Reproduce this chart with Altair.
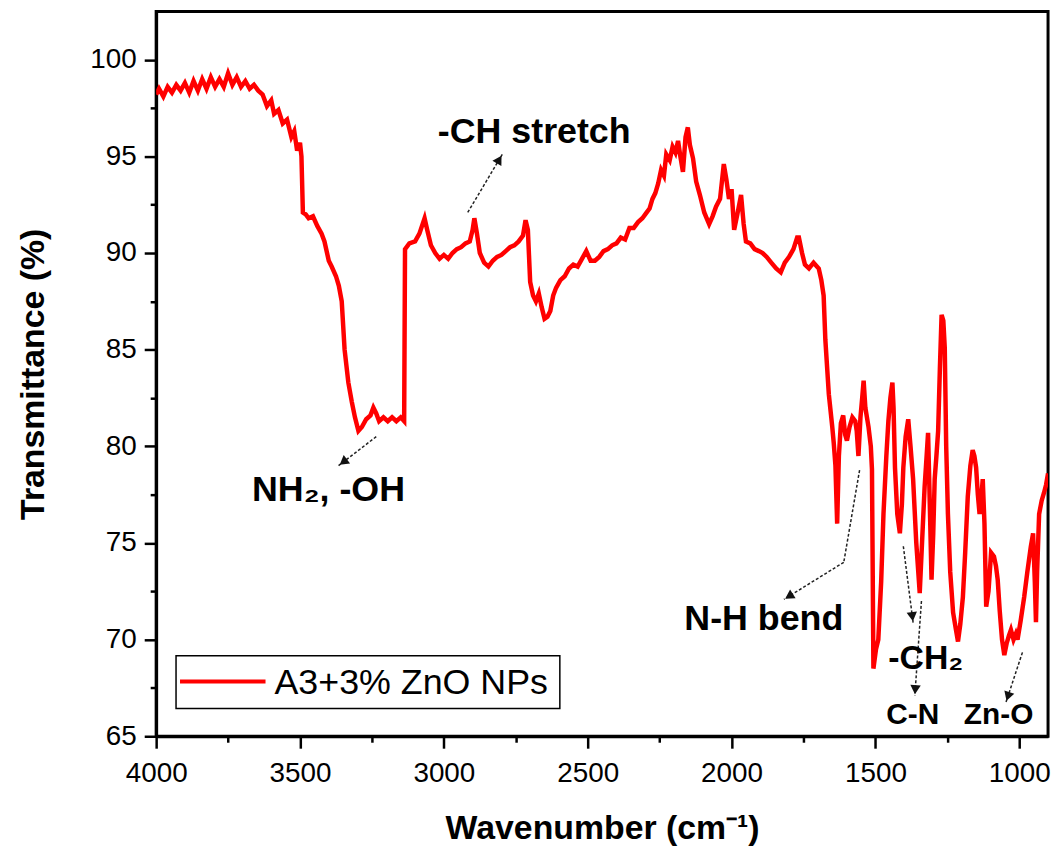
import math
import altair as alt
import pandas as pd

# ---------------- data ----------------
wavenumber = [
    4000, 3990, 3975, 3960, 3945, 3930, 3915, 3900, 3885, 3870, 3855, 3840, 3825, 3810, 3795, 3780,
    3765, 3750, 3735, 3720, 3705, 3690, 3675, 3660, 3645, 3630, 3615, 3600, 3590, 3575, 3560, 3545,
    3530, 3520, 3510, 3500, 3495, 3490, 3480, 3470, 3455, 3440, 3425, 3415, 3400, 3390, 3375, 3365,
    3355, 3345, 3332, 3320, 3309, 3297, 3285, 3270, 3255, 3245, 3235, 3225, 3210, 3195, 3180, 3165,
    3150, 3138, 3135, 3120, 3100, 3085, 3067, 3058, 3045, 3030, 3015, 3000, 2985, 2970, 2955, 2940,
    2925, 2910, 2900, 2894, 2885, 2875, 2860, 2845, 2830, 2815, 2800, 2785, 2770, 2755, 2740, 2725,
    2716, 2708, 2700, 2690, 2680, 2670, 2660, 2650, 2640, 2630, 2620, 2610, 2595, 2580, 2565, 2550,
    2535, 2520, 2505, 2490, 2475, 2460, 2445, 2430, 2415, 2400, 2385, 2370, 2355, 2340, 2325, 2310,
    2295, 2285, 2275, 2265, 2255, 2245, 2235, 2227, 2215, 2205, 2195, 2186, 2178, 2169, 2160, 2152,
    2145, 2134, 2123, 2110, 2095, 2078, 2066, 2054, 2040, 2027, 2018, 2009, 2000, 1991, 1980, 1967,
    1958, 1950, 1935, 1920, 1905, 1892, 1878, 1862, 1845, 1829, 1815, 1800, 1785, 1772, 1766, 1755,
    1745, 1731, 1715, 1697, 1688, 1680, 1674, 1662, 1650, 1645, 1639, 1633, 1627, 1620, 1612, 1605,
    1599, 1590, 1580, 1570, 1565, 1559, 1552, 1546, 1541, 1535, 1524, 1516, 1512, 1507, 1498, 1490,
    1480, 1472, 1462, 1455, 1448, 1441, 1437, 1432, 1424, 1415, 1408, 1403, 1395, 1386, 1378, 1369,
    1358, 1346, 1338, 1329, 1322, 1317, 1311, 1305, 1299, 1294, 1288, 1282, 1276, 1270, 1264, 1259,
    1254, 1248, 1240, 1230, 1220, 1213, 1205, 1196, 1188, 1179, 1170, 1162, 1156, 1150, 1144, 1138,
    1132, 1127, 1121, 1115, 1107, 1098, 1088, 1081, 1075, 1068, 1060, 1052, 1044, 1036, 1029, 1020,
    1012, 1006, 995, 983, 972, 960, 952, 946, 942, 938, 931, 922, 914, 907, 900,
]
transmittance = [
    98.2, 98.5, 98.1, 98.6, 98.3, 98.7, 98.4, 98.8, 98.3, 98.9, 98.4, 99.0, 98.5, 99.1, 98.6, 99.0,
    98.6, 99.3, 98.7, 99.1, 98.6, 98.9, 98.5, 98.7, 98.4, 98.2, 97.6, 97.9, 97.2, 97.4, 96.7, 96.9,
    96.0, 96.3, 95.3, 95.7, 95.0, 92.1, 92.0, 91.8, 91.9, 91.4, 91.0, 90.6, 89.6, 89.3, 88.8, 88.3,
    87.5, 85.0, 83.3, 82.3, 81.5, 80.8, 81.0, 81.4, 81.6, 82.0, 81.7, 81.3, 81.5, 81.3, 81.5, 81.3,
    81.5, 81.3, 90.2, 90.5, 90.6, 91.0, 91.8, 91.2, 90.4, 90.0, 89.7, 89.9, 89.7, 90.0, 90.2, 90.3,
    90.5, 90.6, 91.2, 91.8, 91.0, 90.0, 89.5, 89.3, 89.6, 89.8, 89.9, 90.1, 90.3, 90.4, 90.6, 90.9,
    91.7, 91.2, 88.5, 87.8, 87.5, 87.9, 87.2, 86.6, 86.7, 87.0, 87.8, 88.2, 88.6, 88.8, 89.2, 89.4,
    89.3, 89.7, 90.1, 89.6, 89.6, 89.8, 90.1, 90.2, 90.4, 90.5, 90.8, 90.7, 91.3, 91.3, 91.6, 91.8,
    92.1, 92.3, 92.8, 93.1, 93.6, 94.3, 94.0, 95.1, 94.8, 95.5, 95.2, 95.8, 95.0, 94.2, 96.0, 96.5,
    95.6, 94.9, 93.7, 93.0, 92.1, 91.5, 91.9, 92.4, 92.8, 94.6, 93.8, 92.8, 93.3, 91.2, 92.0, 93.0,
    91.5, 90.6, 90.5, 90.2, 90.1, 90.0, 89.8, 89.5, 89.2, 89.0, 89.5, 89.8, 90.2, 90.8, 90.8, 90.0,
    89.4, 89.2, 89.5, 89.2, 88.6, 87.8, 85.5, 82.7, 81.0, 80.2, 79.0, 76.0, 79.5, 81.2, 81.6, 80.6,
    80.3, 81.0, 81.5, 81.3, 80.8, 79.5, 81.5, 82.5, 83.4, 82.0, 81.0, 80.0, 78.8, 68.5, 69.5, 70.0,
    73.0, 76.5, 79.5, 81.3, 82.5, 83.3, 82.0, 78.9, 76.5, 75.5, 77.0, 78.9, 80.5, 81.4, 80.0, 78.3,
    75.0, 72.4, 75.0, 77.9, 79.5, 80.7, 77.0, 73.1, 75.5, 78.3, 79.5, 80.8, 84.0, 86.8, 86.5, 85.1,
    80.0, 76.5, 73.5, 71.4, 70.5, 69.9, 70.8, 72.2, 74.5, 77.4, 79.0, 79.8, 79.5, 78.9, 77.5, 76.5,
    77.3, 78.3, 76.0, 71.7, 72.5, 74.5, 74.3, 73.8, 73.1, 71.5, 70.0, 69.2, 69.8, 70.2, 70.5, 70.0,
    70.3, 70.0, 71.0, 72.2, 73.5, 74.8, 75.5, 73.0, 70.9, 73.5, 76.5, 77.2, 77.6, 78.0, 78.6,
]
series_name = "A3+3% ZnO NPs"

x_major = [1000, 1500, 2000, 2500, 3000, 3500, 4000]
x_minor = [1250, 1750, 2250, 2750, 3250, 3750]
y_major = [65, 70, 75, 80, 85, 90, 95, 100]
y_minor = [67.5, 72.5, 77.5, 82.5, 87.5, 92.5, 97.5]

# annotation labels (wavenumber, transmittance)
bold_labels = ["-CH stretch", "NH\u2082, -OH", "N-H bend"]
bold_wn = [2686, 3401, 1888]
bold_t = [96.26, 77.74, 71.05]

small_labels = ["C-N", "Zn-O"]
small_wn = [1370, 1072]
small_t = [66.1, 66.1]

reg_labels = ["-CH\u2082"]
reg_wn = [1325]
reg_t = [69.0]

# arrow segments: tail -> head
seg_wn1 = [2917, 3235, 1555, 1610, 1403, 1340, 989]
seg_t1 = [92.1, 80.5, 78.77, 74.0, 74.83, 72.0, 69.34]
seg_wn2 = [2797, 3366, 1610, 1818, 1369, 1363, 1046]
seg_t2 = [95.1, 79.0, 74.0, 72.08, 70.88, 67.1, 66.77]
seg_head = [True, True, False, True, True, True, True]

# ---------------- layout ----------------
W, H = 897, 729
XLO, XHI = 900, 4000
YLO, YHI = 65, 102.5
FONT = "Liberation Sans"

xs = alt.Scale(domain=[XLO, XHI], reverse=True, nice=False, zero=False)
ys = alt.Scale(domain=[YLO, YHI], nice=False, zero=False)

df = pd.DataFrame({"wn": wavenumber, "T": transmittance})

minor_df = pd.DataFrame({"wn": x_minor + [None] * (len(y_minor) - len(x_minor)),
                         "T": y_minor})
minor = alt.Chart(minor_df).mark_point(opacity=0).encode(
    x=alt.X("wn:Q", scale=xs, axis=alt.Axis(values=x_minor, labels=False, tickSize=6,
                                            domain=False, title=None, orient="bottom")),
    y=alt.Y("T:Q", scale=ys, axis=alt.Axis(values=y_minor, labels=False, tickSize=6,
                                           domain=False, title=None, orient="left")),
)

line = alt.Chart(df).mark_line(color="#ff0000", strokeWidth=4.5, clip=True).encode(
    x=alt.X("wn:Q", scale=xs, axis=alt.Axis(
        values=x_major, format="d", title="Wavenumber (cm\u207b\u00b9)", orient="bottom",
        tickSize=12, labelPadding=12, titlePadding=24, labelFlush=False)),
    y=alt.Y("T:Q", scale=ys, axis=alt.Axis(
        values=y_major, format="d", title="Transmittance (%)", orient="left",
        tickSize=12, labelPadding=8, titlePadding=40, labelFlush=False)),
)

# arrows
sx = W / (XHI - XLO)
sy = H / (YHI - YLO)
segs = pd.DataFrame({"x1": seg_wn1, "y1": seg_t1, "x2": seg_wn2, "y2": seg_t2})
rules = alt.Chart(segs).mark_rule(color="#222222", strokeWidth=1.5, strokeDash=[3, 2]).encode(
    x=alt.X("x1:Q", scale=xs, axis=None), y=alt.Y("y1:Q", scale=ys, axis=None),
    x2="x2:Q", y2="y2:Q")

heads = []
for a, b, c, d, h in zip(seg_wn1, seg_t1, seg_wn2, seg_t2, seg_head):
    if not h:
        continue
    dx = -(c - a) * sx
    dy = -(d - b) * sy
    L = math.hypot(dx, dy)
    ang = math.degrees(math.atan2(dx, -dy)) % 360
    back = 6.0
    hx = c + (dx / L) * back / sx
    hy = d + (dy / L) * back / sy
    heads.append({"x": hx, "y": hy, "ang": ang})
heads_df = pd.DataFrame(heads)
arrowheads = alt.Chart(heads_df).mark_point(
    shape="triangle-up", filled=True, color="#111111", size=110, opacity=1).encode(
    x=alt.X("x:Q", scale=xs, axis=None), y=alt.Y("y:Q", scale=ys, axis=None),
    angle=alt.Angle("ang:Q", scale=None))

bold_df = pd.DataFrame({"x": bold_wn, "y": bold_t, "t": bold_labels})
bold_txt = alt.Chart(bold_df).mark_text(font=FONT, fontSize=36, fontWeight="bold",
                                        color="black", baseline="middle", align="center").encode(
    x=alt.X("x:Q", scale=xs, axis=None), y=alt.Y("y:Q", scale=ys, axis=None), text="t:N")

small_df = pd.DataFrame({"x": small_wn, "y": small_t, "t": small_labels})
small_txt = alt.Chart(small_df).mark_text(font=FONT, fontSize=30, fontWeight="bold",
                                          color="black", baseline="middle", align="center").encode(
    x=alt.X("x:Q", scale=xs, axis=None), y=alt.Y("y:Q", scale=ys, axis=None), text="t:N")

reg_df = pd.DataFrame({"x": reg_wn, "y": reg_t, "t": reg_labels})
reg_txt = alt.Chart(reg_df).mark_text(font=FONT, fontSize=34, fontWeight="bold",
                                      color="black", baseline="middle", align="center").encode(
    x=alt.X("x:Q", scale=xs, axis=None), y=alt.Y("y:Q", scale=ys, axis=None), text="t:N")

# legend box (drawn manually)
leg_df = pd.DataFrame({"name": [series_name]})
leg_box = alt.Chart(leg_df).mark_rect(fill="white", stroke="black", strokeWidth=1.5).encode(
    x=alt.value(20), x2=alt.value(406), y=alt.value(648), y2=alt.value(701))
leg_line = alt.Chart(leg_df).mark_rule(color="#ff0000", strokeWidth=4).encode(
    x=alt.value(24), x2=alt.value(110), y=alt.value(674), y2=alt.value(674))
leg_text = alt.Chart(leg_df).mark_text(font=FONT, fontSize=36, align="left",
                                       baseline="middle", color="black").encode(
    x=alt.value(119), y=alt.value(675), text="name:N")

chart = alt.layer(
    line, minor, rules, arrowheads, bold_txt, small_txt, reg_txt, leg_box, leg_line, leg_text
).resolve_axis(x="independent", y="independent").properties(
    width=W, height=H,
    autosize=alt.AutoSizeParams(type="none"),
    padding={"left": 149, "top": 1, "right": 8, "bottom": 118},
    background="white",
).configure_view(stroke="black", strokeWidth=3).configure_axis(
    labelFont=FONT, labelFontSize=28, labelColor="black",
    titleFont=FONT, titleFontSize=34, titleFontWeight="bold", titleColor="black",
    tickColor="black", tickWidth=2.5, domainColor="black", domainWidth=3, grid=False,
)

chart.save("out.html", embed_options={"renderer": "svg", "actions": False})
